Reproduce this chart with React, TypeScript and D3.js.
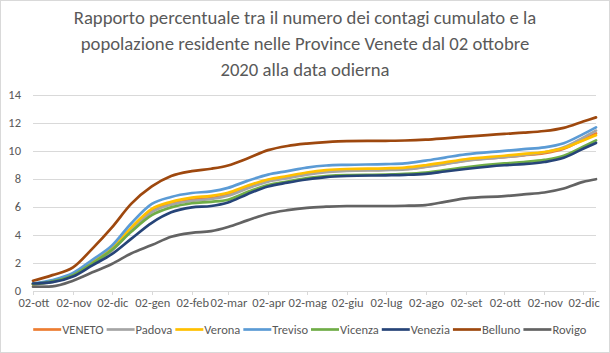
import React, { useEffect, useRef } from 'react';
import * as d3 from 'd3';

const dates = [
  '2020-10-02', '2020-10-17', '2020-11-02', '2020-11-17', '2020-12-02', '2020-12-17',
  '2021-01-02', '2021-01-17', '2021-02-02', '2021-02-17', '2021-03-02', '2021-03-17',
  '2021-04-02', '2021-04-17', '2021-05-02', '2021-05-17', '2021-06-02', '2021-07-02',
  '2021-07-17', '2021-08-02', '2021-08-17', '2021-09-02', '2021-10-02', '2021-10-17',
  '2021-11-02', '2021-11-17', '2021-12-02', '2021-12-12',
];

const veneto = [0.45, 0.65, 1.1, 1.95, 2.9, 4.35, 5.7, 6.22, 6.5, 6.62, 6.85, 7.38, 7.85, 8.1, 8.35, 8.52, 8.6, 8.65, 8.7, 8.87, 9.07, 9.3, 9.55, 9.68, 9.83, 10.15, 10.8, 11.25];
const padova = [0.42, 0.62, 1.05, 1.9, 2.85, 4.3, 5.62, 6.15, 6.42, 6.55, 6.78, 7.3, 7.8, 8.05, 8.3, 8.48, 8.56, 8.62, 8.67, 8.85, 9.05, 9.28, 9.55, 9.7, 9.9, 10.25, 10.95, 11.45];
const verona = [0.45, 0.68, 1.15, 2.05, 3.0, 4.5, 5.85, 6.35, 6.65, 6.78, 7.0, 7.5, 7.95, 8.2, 8.45, 8.62, 8.7, 8.75, 8.8, 8.97, 9.18, 9.4, 9.65, 9.78, 9.92, 10.2, 10.75, 11.12];
const treviso = [0.5, 0.75, 1.25, 2.2, 3.2, 4.8, 6.2, 6.7, 6.98, 7.1, 7.35, 7.85, 8.3, 8.55, 8.8, 8.95, 9.0, 9.05, 9.1, 9.3, 9.52, 9.75, 10.0, 10.12, 10.25, 10.55, 11.2, 11.68];
const vicenza = [0.45, 0.65, 1.1, 1.95, 2.9, 4.2, 5.4, 5.95, 6.25, 6.35, 6.5, 7.05, 7.55, 7.8, 8.05, 8.2, 8.27, 8.3, 8.35, 8.45, 8.62, 8.82, 9.1, 9.2, 9.35, 9.65, 10.3, 10.75];
const venezia = [0.5, 0.6, 1.0, 1.8, 2.6, 3.7, 4.85, 5.6, 5.95, 6.05, 6.3, 6.9, 7.45, 7.72, 7.95, 8.12, 8.2, 8.25, 8.28, 8.35, 8.52, 8.7, 8.97, 9.05, 9.2, 9.5, 10.15, 10.57];
const belluno = [0.7, 1.1, 1.65, 3.0, 4.5, 6.2, 7.45, 8.2, 8.55, 8.72, 8.95, 9.45, 10.05, 10.35, 10.52, 10.63, 10.7, 10.72, 10.74, 10.8, 10.9, 11.02, 11.22, 11.3, 11.42, 11.65, 12.1, 12.4];
const rovigo = [0.27, 0.3, 0.7, 1.3, 1.9, 2.65, 3.25, 3.85, 4.13, 4.25, 4.55, 5.02, 5.5, 5.75, 5.92, 6.0, 6.05, 6.05, 6.07, 6.12, 6.35, 6.6, 6.76, 6.88, 7.02, 7.3, 7.78, 7.97];

const seriesNames = ['VENETO', 'Padova', 'Verona', 'Treviso', 'Vicenza', 'Venezia', 'Belluno', 'Rovigo'];
const seriesValues = [veneto, padova, verona, treviso, vicenza, venezia, belluno, rovigo];
const seriesColors = ['#ED7D31', '#A5A5A5', '#FFC000', '#5B9BD5', '#70AD47', '#264478', '#9E480E', '#636363'];

const tickDates = [
  '2020-10-02', '2020-11-02', '2020-12-02', '2021-01-02', '2021-02-02', '2021-03-02', '2021-04-02',
  '2021-05-02', '2021-06-02', '2021-07-02', '2021-08-02', '2021-09-02', '2021-10-02', '2021-11-02', '2021-12-02',
];
const monthNames = ['gen', 'feb', 'mar', 'apr', 'mag', 'giu', 'lug', 'ago', 'set', 'ott', 'nov', 'dic'];
const yTicks = [0, 2, 4, 6, 8, 10, 12, 14];

const titleLines = [
  'Rapporto percentuale tra il numero dei contagi cumulato e la',
  'popolazione residente nelle Province Venete dal 02 ottobre',
  '2020 alla data odierna',
];

const font = 'Carlito, Calibri, "Liberation Sans Narrow", "Liberation Sans", sans-serif';
const textColor = '#595959';
const gridColor = '#D9D9D9';

const App = () => {
  const svgRef = useRef(null);

  useEffect(() => {
    const width = 610;
    const height = 353;
    const parse = d3.timeParse('%Y-%m-%d');
    const xs = dates.map((d) => parse(d));

    const svg = d3.select(svgRef.current);
    svg.selectAll('*').remove();

    svg
      .append('rect')
      .attr('x', 0.5)
      .attr('y', 0.5)
      .attr('width', width - 1)
      .attr('height', height - 1)
      .attr('fill', '#fff')
      .attr('stroke', gridColor);

    // title
    svg
      .append('g')
      .selectAll('text')
      .data(titleLines)
      .join('text')
      .attr('x', 305)
      .attr('y', (d, i) => 24 + i * 26)
      .attr('text-anchor', 'middle')
      .attr('font-family', font)
      .attr('font-size', 18.7)
      .attr('fill', textColor)
      .text((d) => d);

    const x = d3.scaleTime().domain([xs[0], xs[xs.length - 1]]).range([33, 596]);
    const y = d3.scaleLinear().domain([0, 14]).range([290.5, 95]);

    // gridlines
    svg
      .append('g')
      .selectAll('line')
      .data(yTicks)
      .join('line')
      .attr('x1', 33)
      .attr('x2', 596)
      .attr('y1', (d) => Math.round(y(d)) + 0.5)
      .attr('y2', (d) => Math.round(y(d)) + 0.5)
      .attr('stroke', gridColor);

    svg
      .append('g')
      .selectAll('text')
      .data(yTicks)
      .join('text')
      .attr('x', 21)
      .attr('y', (d) => y(d) + 4)
      .attr('text-anchor', 'end')
      .attr('font-family', font)
      .attr('font-size', 12.5)
      .attr('fill', textColor)
      .text((d) => d);

    // x axis ticks
    const tickXs = tickDates.map((d) => parse(d));
    svg
      .append('g')
      .selectAll('line')
      .data(tickXs)
      .join('line')
      .attr('x1', (d) => Math.round(x(d)) + 0.5)
      .attr('x2', (d) => Math.round(x(d)) + 0.5)
      .attr('y1', 291)
      .attr('y2', 295)
      .attr('stroke', gridColor);

    svg
      .append('g')
      .selectAll('text')
      .data(tickXs)
      .join('text')
      .attr('x', (d) => x(d) + 1)
      .attr('y', 307)
      .attr('text-anchor', 'middle')
      .attr('font-family', font)
      .attr('font-size', 12.5)
      .attr('fill', textColor)
      .text((d) => `${d3.timeFormat('%d')(d)}-${monthNames[d.getMonth()]}`);

    // lines
    const line = d3
      .line()
      .x((d, i) => x(xs[i]))
      .y((d) => y(d))
      .curve(d3.curveMonotoneX);

    svg
      .append('g')
      .selectAll('path')
      .data(seriesValues)
      .join('path')
      .attr('d', (d) => line(d))
      .attr('fill', 'none')
      .attr('stroke', (d, i) => seriesColors[i])
      .attr('stroke-width', 2.7)
      .attr('stroke-linejoin', 'round')
      .attr('stroke-linecap', 'round');

    // legend
    const legend = svg.append('g');
    let lx = 0;
    seriesNames.forEach((name, i) => {
      legend
        .append('line')
        .attr('x1', lx)
        .attr('x2', lx + 28)
        .attr('y1', 329.5)
        .attr('y2', 329.5)
        .attr('stroke', seriesColors[i])
        .attr('stroke-width', 2.7);
      const t = legend
        .append('text')
        .attr('x', lx + 29)
        .attr('y', 334)
        .attr('font-family', font)
        .attr('font-size', 12.5)
        .attr('fill', textColor)
        .text(name);
      lx += 29 + t.node().getComputedTextLength() + 3;
    });
    const bb = legend.node().getBBox();
    legend.attr('transform', `translate(${310 - (bb.x + bb.width / 2)},0)`);
  }, []);

  return (
    <svg
      ref={svgRef}
      width={610}
      height={353}
      style={{ position: 'absolute', left: 0, top: 0 }}
    />
  );
};

export default App;
